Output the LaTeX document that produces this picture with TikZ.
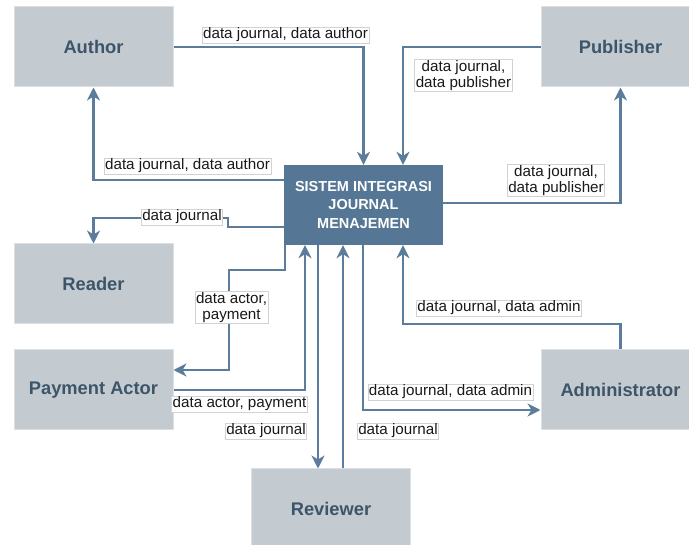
\documentclass[tikz,border=0pt]{standalone}
\usepackage{fontspec}
\setmainfont{Liberation Sans}
\usepackage{tikz}
\usetikzlibrary{positioning,arrows.meta}
\definecolor{kotak}{HTML}{C4CBD0}
\definecolor{garis}{HTML}{DCE0E3}
\definecolor{biru}{HTML}{557694}
\definecolor{panah}{HTML}{5B7D9B}
\definecolor{teks}{HTML}{3D5569}

\begin{document}
\begin{tikzpicture} [x=1pt, y=-1pt,
                    entitas/.style={rectangle,draw=garis,fill=kotak,line width=1pt,minimum width=159pt,minimum height=80pt,inner sep=0pt,text=teks,font=\fontsize{18.3}{22}\selectfont\bfseries},
                    sistem/.style={rectangle,fill=biru,minimum width=159pt,minimum height=80pt,inner sep=0pt,text=white,align=center,font=\fontsize{14.5}{18.5}\selectfont\bfseries},
                    aliran/.style={draw=panah,line width=2.4pt,-{Stealth[length=13pt,width=13pt,inset=4pt]}},
                    ket/.style={fill=white,draw=gray!35,line width=0.6pt,inner sep=1pt,align=center,text=black!90,font=\fontsize{15.2}{15.5}\selectfont}]

\fill[white] (0,0) rectangle (689,545);
\useasboundingbox (0,0) rectangle (689,545);

\node[sistem] (SIJM) at (363.5,205) {SISTEM INTEGRASI\\JOURNAL\\MENAJEMEN};
\node[entitas] (Author) at (93.5,47) {Author};
\node[entitas] (Publisher) at (620.5,47) {Publisher};
\node[entitas] (Reader) at (93.5,284) {Reader};
\node[entitas] (Payment) at (93.5,390) {Payment Actor};
\node[entitas] (Admin) at (620.5,390) {Administrator};
\node[entitas] (Reviewer) at (331,509) {Reviewer};

\draw[aliran] (Author.east) -| (SIJM.north);
\draw[aliran] (SIJM.west |- 0,180) -| (Author.south);
\draw[aliran] (SIJM.west |- 0,227) -- (228,227) -- (228,218) -| (Reader.north);
\draw[aliran] (Publisher.west) -| (SIJM.north -| 403,0);
\draw[aliran] (SIJM.east |- 0,203) -| (Publisher.south);
\draw[aliran] (SIJM.south -| 285,0) -- (285,270) -- (229,270) |- (Payment.east |- 0,370);
\draw[aliran] (Payment.east) -| (SIJM.south -| 305,0);
\draw[aliran] (SIJM.south -| 318,0) -- (Reviewer.north -| 318,0);
\draw[aliran] (Reviewer.north -| 343,0) -- (SIJM.south -| 343,0);
\draw[aliran] (SIJM.south -| 363,0) |- (Admin.west |- 0,410);
\draw[aliran] (Admin.north) |- (403,324) -- (SIJM.south -| 403,0);

\node[ket] (K1) at (285.5,35) {data journal, data author};
\node[ket] (K2) at (187.5,166) {data journal, data author};
\node[ket] (K3) at (182,217) {data journal};
\node[ket] (K4) at (463.5,75.5) {data journal,\\data publisher};
\node[ket] (K5) at (556,180.5) {data journal,\\data publisher};
\node[ket] (K6) at (231.5,307.5) {data actor,\\payment};
\node[ket] (K7) at (239.5,404) {data actor, payment};
\node[ket] (K8) at (266,431) {data journal};
\node[ket] (K9) at (398,431) {data journal};
\node[ket] (K10) at (450.5,392) {data journal, data admin};
\node[ket] (K11) at (499,308) {data journal, data admin};
\end{tikzpicture}
\end{document}
